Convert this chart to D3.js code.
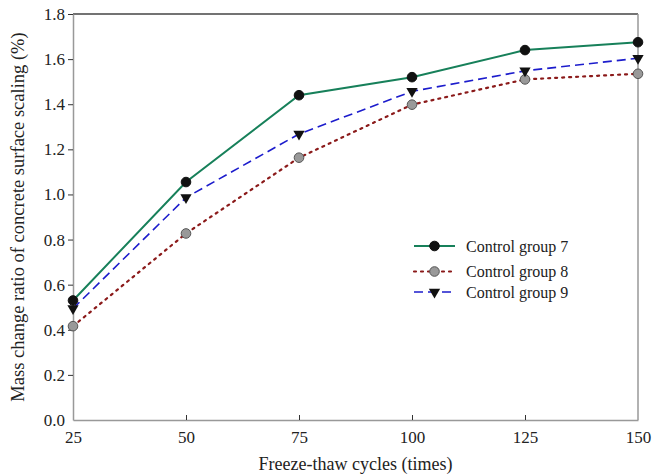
<!DOCTYPE html>
<html>
<head>
<meta charset="utf-8">
<script src="https://cdn.jsdelivr.net/npm/d3@7"></script>
<style>
  body { margin: 0; background: #fff; }
  text { font-family: "Liberation Serif", "Times New Roman", serif; fill: #222; }
</style>
</head>
<body>
<div id="chart"></div>
<script>
// data
const cycles = [25, 50, 75, 100, 125, 150];
const group7 = [0.53, 1.055, 1.44, 1.52, 1.64, 1.675];
const group8 = [0.416, 0.827, 1.163, 1.398, 1.51, 1.535];
const group9 = [0.494, 0.986, 1.268, 1.457, 1.548, 1.604];
const yTicks = [0, 0.2, 0.4, 0.6, 0.8, 1.0, 1.2, 1.4, 1.6, 1.8];
const seriesNames = ["Control group 7", "Control group 8", "Control group 9"];

const W = 663, H = 474;
const margin = { top: 14, right: 25, bottom: 54, left: 73 };
const width = W - margin.left - margin.right;
const height = H - margin.top - margin.bottom;
const serif = "'Liberation Serif', 'Times New Roman', serif";

const svg = d3.select("#chart").append("svg")
    .attr("width", W)
    .attr("height", H);

const g = svg.append("g")
    .attr("transform", "translate(" + margin.left + "," + margin.top + ")");

let x = d3.scaleLinear().domain([25, 150]).range([0, width]);
let y = d3.scaleLinear().domain([0, 1.8]).range([height, 0]);

// frame
g.append("line").attr("x1", 0).attr("x2", width).attr("y1", 0).attr("y2", 0)
    .attr("stroke", "#444").attr("stroke-width", 1.3);
g.append("line").attr("x1", width).attr("x2", width).attr("y1", 0).attr("y2", height)
    .attr("stroke", "#999").attr("stroke-width", 1.5);

// axes
let yAxis = g.append("g")
    .call(d3.axisLeft(y).tickValues(yTicks).tickFormat(d3.format(".1f")).tickSize(5).tickSizeOuter(0));
yAxis.select(".domain").attr("stroke", "#999").attr("stroke-width", 1.5);
yAxis.selectAll(".tick line").attr("stroke", "#333")
    .attr("display", d => d === 0 ? "none" : null);
yAxis.selectAll(".tick text").attr("x", -8).attr("font-size", 17)
    .style("font-family", serif).attr("fill", "#222");

let xAxis = g.append("g")
    .attr("transform", "translate(0," + height + ")")
    .call(d3.axisBottom(x).tickValues(cycles).tickSize(-5).tickSizeOuter(0));
xAxis.select(".domain").attr("stroke", "#999").attr("stroke-width", 1.5);
xAxis.selectAll(".tick line").attr("stroke", "#333")
    .attr("display", d => (d === 25 || d === 150) ? "none" : null);
xAxis.selectAll(".tick text").attr("y", 11).attr("font-size", 17)
    .style("font-family", serif).attr("fill", "#222");

// axis titles
svg.append("text")
    .attr("x", margin.left + width / 2)
    .attr("y", 470)
    .attr("text-anchor", "middle")
    .attr("font-size", 18)
    .style("font-family", serif)
    .text("Freeze-thaw cycles (times)");

svg.append("text")
    .attr("transform", "translate(24," + (margin.top + height / 2) + ") rotate(-90)")
    .attr("text-anchor", "middle")
    .attr("font-size", 18.5)
    .style("font-family", serif)
    .text("Mass change ratio of concrete surface scaling (%)");

// series
const series = [
    { name: seriesNames[0], values: group7, color: "#17805a", dash: null, width: 2, marker: "circle", fill: "#111" },
    { name: seriesNames[1], values: group8, color: "#8b1a1a", dash: "2,5", width: 2.2, marker: "circle", fill: "#999" },
    { name: seriesNames[2], values: group9, color: "#1c1ccc", dash: "9,5", width: 1.6, marker: "triangle", fill: "#111" }
];

const line = d3.line()
    .x(d => x(d[0]))
    .y(d => y(d[1]));

const tri = d3.symbol().type(d3.symbolTriangle).size(55);

function drawMarker(sel, s) {
    if (s.marker === "circle") {
        sel.append("circle").attr("r", 4.8)
            .attr("fill", s.fill)
            .attr("stroke", s.fill === "#999" ? "#555" : "#111")
            .attr("stroke-width", 1);
    } else {
        sel.append("path").attr("d", tri)
            .attr("transform", "rotate(180)")
            .attr("fill", "#111");
    }
}

series.forEach(s => {
    let pts = cycles.map((c, i) => [c, s.values[i]]);
    g.append("path")
        .datum(pts)
        .attr("fill", "none")
        .attr("stroke", s.color)
        .attr("stroke-width", s.width)
        .attr("stroke-dasharray", s.dash)
        .attr("stroke-linecap", s.dash === "2,5" ? "round" : "butt")
        .attr("d", line);
});

series.forEach(s => {
    cycles.forEach((c, i) => {
        let m = g.append("g").attr("transform", "translate(" + x(c) + "," + y(s.values[i]) + ")");
        drawMarker(m, s);
    });
});

// legend
const legendRows = [246, 271.5, 292];
series.forEach((s, i) => {
    let row = svg.append("g").attr("transform", "translate(414," + legendRows[i] + ")");
    row.append("line").attr("x1", 0).attr("x2", 41)
        .attr("stroke", s.color)
        .attr("stroke-width", s.width)
        .attr("stroke-dasharray", s.dash)
        .attr("stroke-linecap", s.dash === "2,5" ? "round" : "butt");
    let m = row.append("g").attr("transform", "translate(20.5,0)");
    drawMarker(m, s);
    row.append("text").attr("x", 52).attr("y", 5.5)
        .attr("font-size", 16)
        .style("font-family", serif)
        .text(s.name);
});
</script>
</body>
</html>
